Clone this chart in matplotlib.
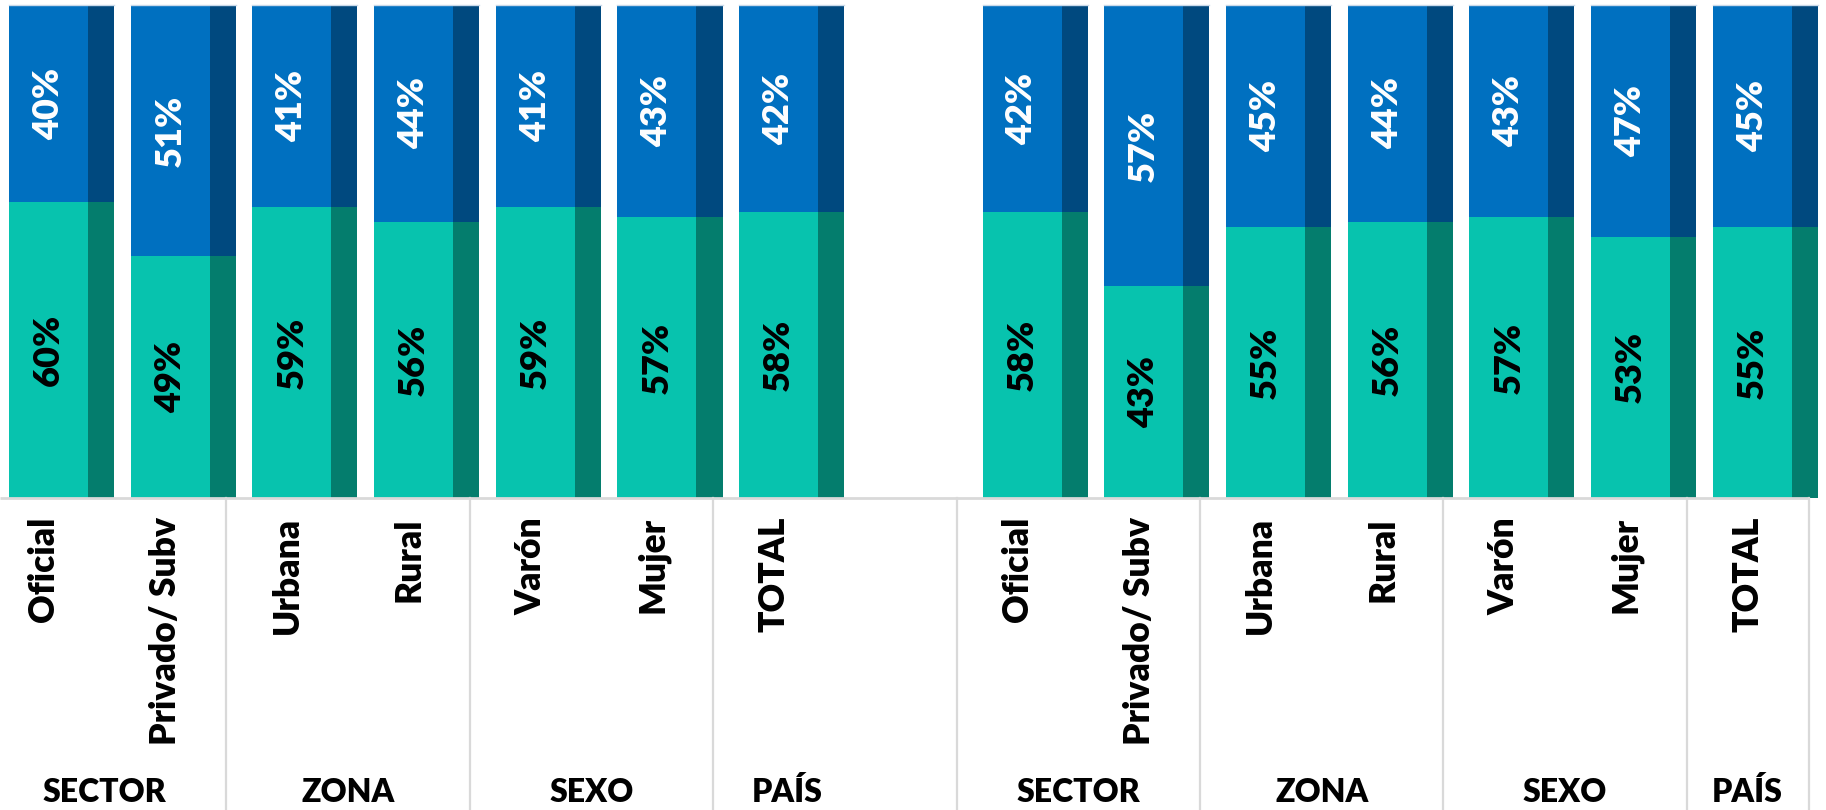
import matplotlib
matplotlib.use("Agg")
import matplotlib.pyplot as plt
import matplotlib.transforms as mtransforms

plt.rcParams['font.family'] = ['Lato', 'DejaVu Sans']

# data
categories = ["Oficial", "Privado/ Subv", "Urbana", "Rural", "Varón", "Mujer", "TOTAL"]
group_names = ["SECTOR", "ZONA", "SEXO", "PAÍS"]
# bottom (teal) and top (blue) shares, left block and right block
teal_left = [60, 49, 59, 56, 59, 57, 58]
blue_left = [40, 51, 41, 44, 41, 43, 42]
teal_right = [58, 43, 55, 56, 57, 53, 55]
blue_right = [42, 57, 45, 44, 43, 47, 45]

# colours (front face / shaded side face)
teal_front, teal_side = "#07C3AE", "#047D6D"
blue_front, blue_side = "#0070C0", "#00497F"
grid_grey = "#D9D9D9"
weight = "heavy"

W, H = 1826, 810
fig = plt.figure(figsize=(W / 100, H / 100), dpi=100)

# pixel geometry of the plot area
slot_px = 121.7
x0_px = -17
top_px, base_px = 5, 498
ax = fig.add_axes([0, (H - base_px) / H, 1, (base_px - top_px) / H])
ax.set_xlim(-x0_px / slot_px, (W - x0_px) / slot_px)
ax.set_ylim(0, 100)
ax.axis("off")

front_off, front_w = 0.2136, 0.649
side_w = 0.214

# slots: left block 0..6, gap at 7, right block 8..14
blocks = [(0, teal_left, blue_left), (8, teal_right, blue_right)]
for start, teal, blue in blocks:
    for i, (t, b) in enumerate(zip(teal, blue)):
        s = start + i
        ax.bar(s + front_off, t, front_w, align="edge", color=teal_front, linewidth=0)
        ax.bar(s + front_off + front_w, t, side_w, align="edge", color=teal_side, linewidth=0)
        ax.bar(s + front_off, b, front_w, bottom=t, align="edge", color=blue_front, linewidth=0)
        ax.bar(s + front_off + front_w, b, side_w, bottom=t, align="edge", color=blue_side, linewidth=0)
        # faint light rim along the top of the bar
        ax.plot([s + front_off, s + front_off + front_w + side_w], [100, 100],
                color="#C9D9EA", lw=1, clip_on=False)
        xc = s + front_off + front_w / 2
        ax.text(xc, t / 2, f"{t}%", rotation=90, ha="center", va="center",
                fontsize=26, fontweight=weight, color="black")
        ax.text(xc, t + b / 2, f"{b}%", rotation=90, ha="center", va="center",
                fontsize=26, fontweight=weight, color="white")

# category axis below the bars
trans = mtransforms.blended_transform_factory(ax.transData, fig.transFigure)
y_base = (H - base_px) / H
ax.plot([ax.get_xlim()[0], 15], [y_base, y_base], transform=trans,
        color=grid_grey, lw=2, clip_on=False, solid_capstyle="butt")
for b in [0, 2, 4, 6, 8, 10, 12, 14, 15]:
    ax.plot([b, b], [0, y_base], transform=trans, color=grid_grey, lw=1.6, clip_on=False)

label_top = (H - 517) / H
for start in [0, 8]:
    for i, name in enumerate(categories):
        ax.text(start + i + 0.5, label_top, name, transform=trans, rotation=90,
                ha="center", va="top", fontsize=25.5, fontweight=weight, color="black")

group_base = (H - 802) / H
group_x = [1.0, 3.0, 5.0, 6.61, 9.0, 11.0, 13.0, 14.5]
for x, name in zip(group_x, group_names * 2):
    ax.text(x, group_base, name, transform=trans, ha="center", va="baseline",
            fontsize=23, fontweight=weight, color="black")

fig.savefig("out.png", dpi=100)
